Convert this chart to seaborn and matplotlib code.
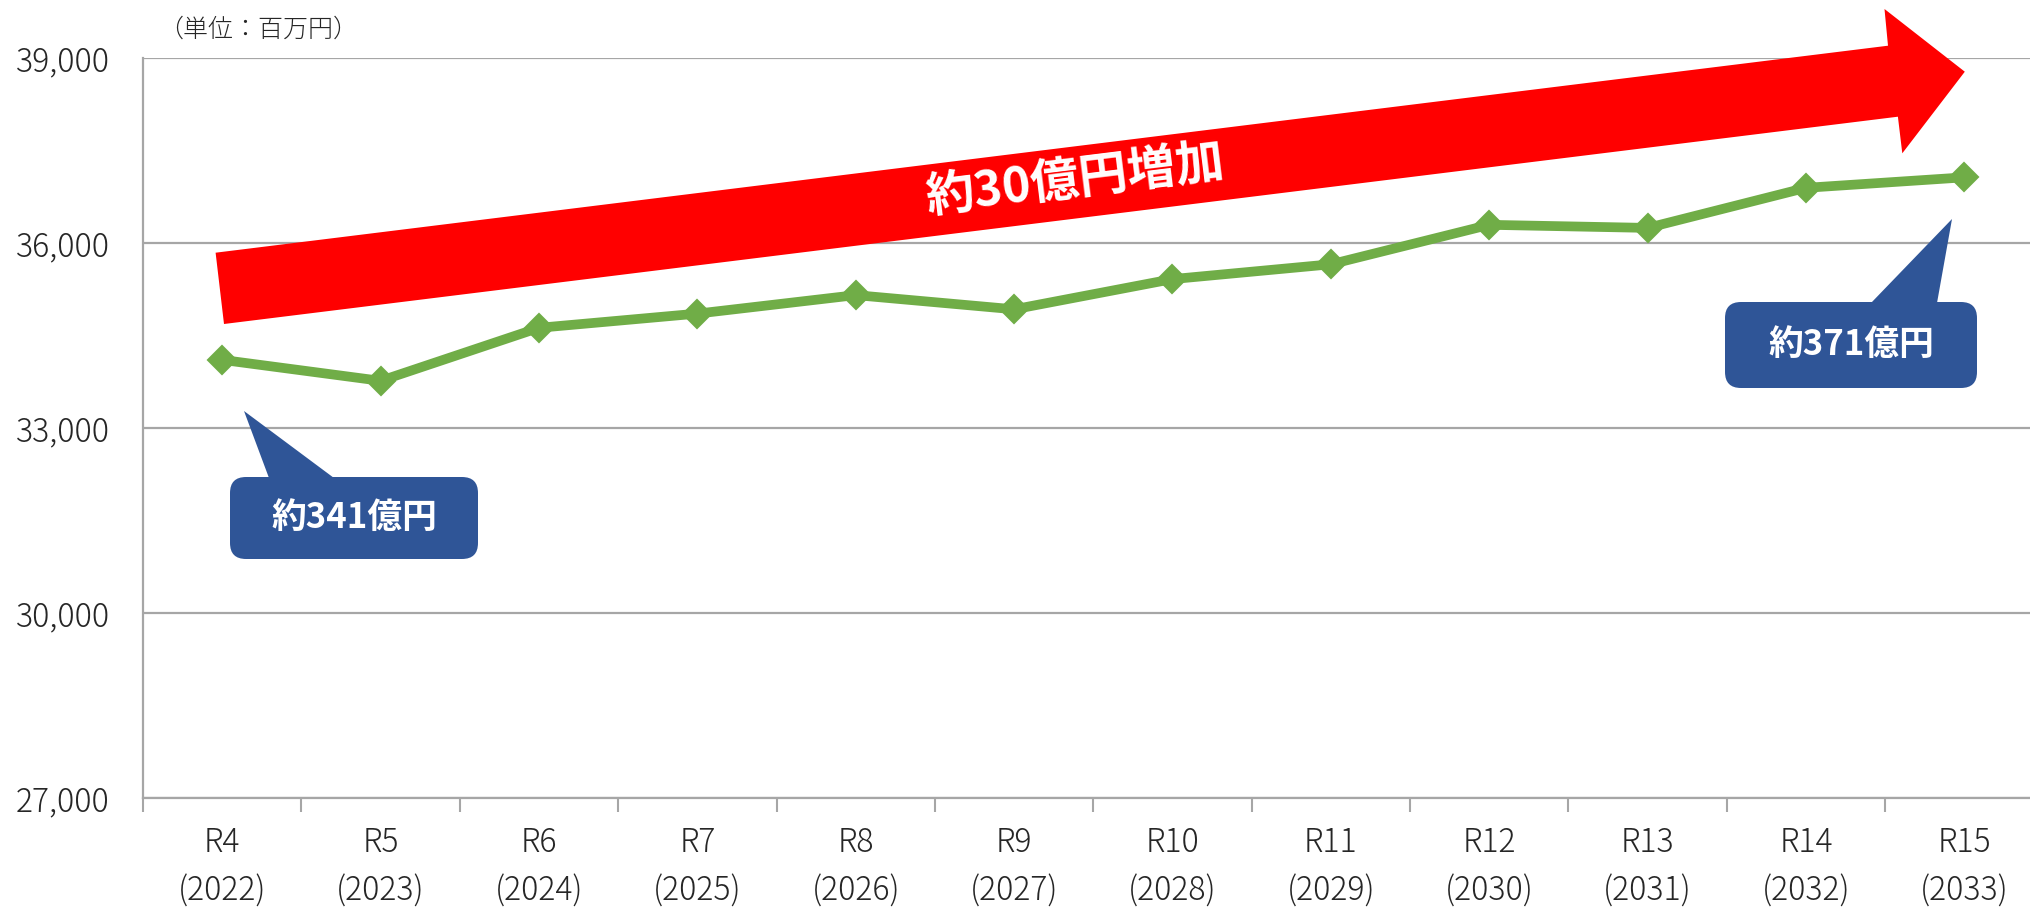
import matplotlib
matplotlib.use("Agg")
import matplotlib.pyplot as plt
import seaborn as sns
import pandas as pd
from matplotlib.patches import Polygon, FancyBboxPatch
from matplotlib.transforms import IdentityTransform

# ---------------- data ----------------
categories = ["R4\n(2022)", "R5\n(2023)", "R6\n(2024)", "R7\n(2025)", "R8\n(2026)", "R9\n(2027)",
              "R10\n(2028)", "R11\n(2029)", "R12\n(2030)", "R13\n(2031)", "R14\n(2032)", "R15\n(2033)"]
values = [34100, 33760, 34620, 34850, 35150, 34920, 35410, 35650, 36290, 36240, 36890, 37060]
yticks = [27000, 30000, 33000, 36000, 39000]
unit_label = "（単位：百万円）"
arrow_label = "約30億円増加"
start_label = "約341億円"
end_label = "約371億円"

# ---------------- style ----------------
W, H = 2031, 908
sns.set_theme(style="white")
plt.rcParams["font.family"] = ["Noto Sans CJK JP", "DejaVu Sans"]

GREEN = "#70AD47"
RED = "#FF0000"
BLUE = "#2F5597"
GRID = "#A6A6A6"
TXT = "#262626"

fig = plt.figure(figsize=(W / 100, H / 100), dpi=100)
ax = fig.add_axes([143 / W, (H - 797.7) / H, 1900.6 / W, 740 / H])

df = pd.DataFrame({"cat": list(range(len(categories))), "value": values})
sns.lineplot(data=df, x="cat", y="value", ax=ax, color=GREEN, linewidth=7,
             marker="D", markersize=14, markeredgecolor=GREEN, markeredgewidth=1.5,
             zorder=5)

ax.set_xlim(-0.5, len(categories) - 0.5)
ax.set_ylim(yticks[0], yticks[-1])
ax.set_yticks(yticks, [f"{v:,}" for v in yticks])
ax.set_xticks(range(len(categories)), categories)
ax.set_xticks([i - 0.5 for i in range(len(categories) + 1)], minor=True)
ax.set_xlabel("")
ax.set_ylabel("")

ax.yaxis.grid(True, color=GRID, linewidth=1.6)
ax.xaxis.grid(False)
ax.set_axisbelow(True)
for s in ["top", "right"]:
    ax.spines[s].set_visible(False)
for s in ["left", "bottom"]:
    ax.spines[s].set_color(GRID)
    ax.spines[s].set_linewidth(1.6)

ax.tick_params(axis="y", length=0, pad=24, labelsize=23, labelcolor=TXT)
ax.tick_params(axis="x", which="major", length=0, pad=20, labelsize=23, labelcolor=TXT)
ax.tick_params(axis="x", which="minor", length=10, width=1.5, color=GRID, bottom=True)
for lab in ax.get_xticklabels():
    lab.set_linespacing(1.55)
    lab.set_fontweight("light")
for lab in ax.get_yticklabels():
    lab.set_fontweight("light")

ident = IdentityTransform()


def P(x, y):
    """pixel position measured from the top-left corner -> display coords"""
    return (x, H - y)


# unit label
fig.text(158 / W, 1 - 29 / H, unit_label, fontsize=18, color=TXT, ha="left", va="center",
         fontweight="light")

# big red arrow
arrow_pts = [P(215.6, 252.7), P(1888, 45.7), P(1884.5, 9), P(1964.8, 71.7),
             P(1902.3, 153.3), P(1897.9, 116.7), P(224, 324)]
ax.add_patch(Polygon(arrow_pts, closed=True, facecolor=RED, edgecolor="none",
                     transform=ident, clip_on=False, zorder=3))
tx, ty = P(1075, 181)
ax.text(tx, ty, arrow_label, transform=ident, rotation=7.06, rotation_mode="anchor",
        ha="center", va="center", color="white", fontsize=35, fontweight="bold", zorder=4)


def callout(box, tail, text, text_xy):
    x0, y0, x1, y1 = box
    bx, by = P(x0, y1)
    ax.add_patch(FancyBboxPatch((bx, by), x1 - x0, y1 - y0,
                                boxstyle="round,pad=0,rounding_size=16",
                                facecolor=BLUE, edgecolor="none", transform=ident,
                                clip_on=False, zorder=6))
    ax.add_patch(Polygon([P(*p) for p in tail], closed=True, facecolor=BLUE,
                         edgecolor="none", transform=ident, clip_on=False, zorder=6))
    cx, cy = P(*text_xy)
    ax.text(cx, cy, text, transform=ident, ha="center", va="center", color="white",
            fontsize=25, fontweight="bold", zorder=7)


callout((230, 477, 478, 559), [(269, 478), (244, 411), (334, 478)], start_label, (354, 517))
callout((1725, 302, 1977, 388), [(1871, 303), (1952, 219), (1937, 303)], end_label, (1851, 344))

fig.savefig("out.png", dpi=100)
